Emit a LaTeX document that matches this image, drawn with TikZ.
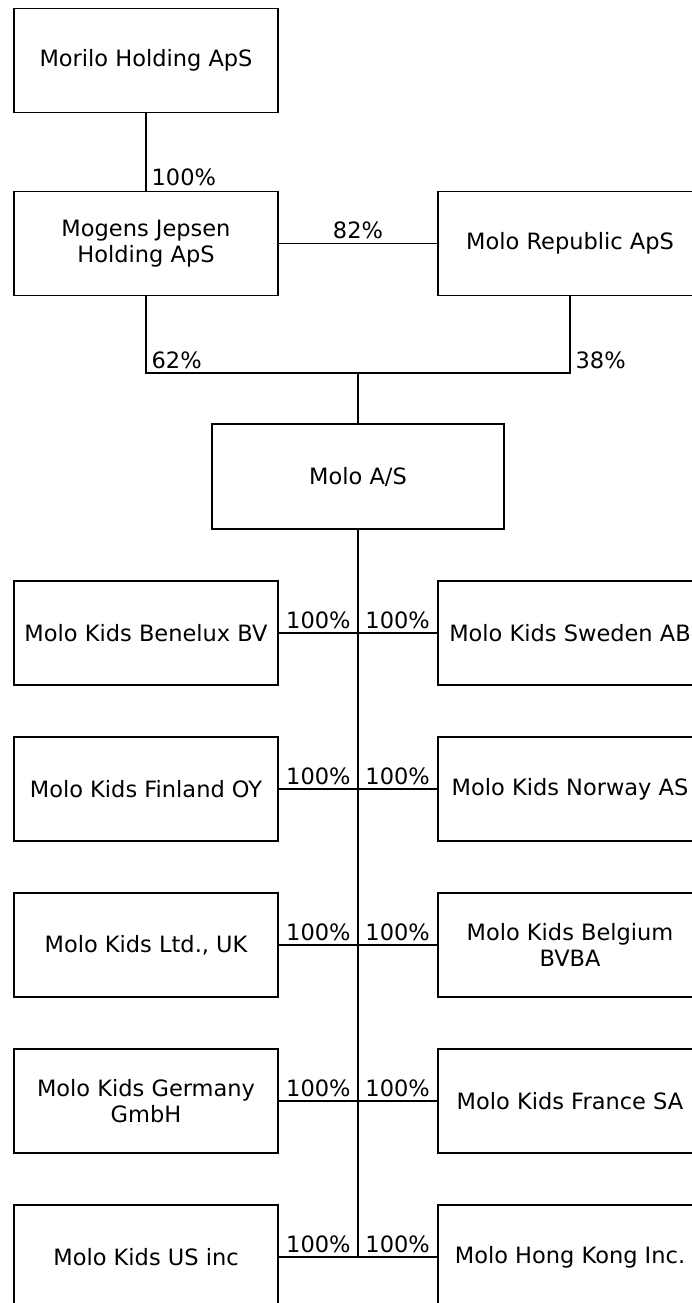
\documentclass[tikz,border=0pt]{standalone}
\usepackage{fontspec}
\setmainfont{DejaVu Sans}

\tikzset{
  company/.style={draw, line width=1.5pt, minimum width=264pt, minimum height=104pt,
    inner sep=0pt, align=center, font=\fontsize{22.5}{26}\selectfont},
  pct/.style={inner xsep=5pt, inner ysep=4pt, font=\fontsize{22.5}{26}\selectfont},
}

\begin{document}
\begin{tikzpicture}[x=1pt,y=-1pt,line width=1.3pt]

  \clip (0,0) rectangle (692,1303);
  \fill[white] (0,0) rectangle (692,1303);

  % owners
  \node (morilo) at (146,60.5) [company] {Morilo Holding ApS};
  \node (mogens) at (146,243.5) [company] {Mogens Jepsen\\Holding ApS};
  \node (republic) at (570,243.5) [company] {Molo Republic ApS};
  \node (molo) at (358,476.5) [company,minimum width=292pt,minimum height=105pt] {Molo A/S};

  % subsidiaries
  \node (benelux) at (146,633) [company] {Molo Kids Benelux BV};
  \node (sweden) at (570,633) [company] {Molo Kids Sweden AB};
  \node (finland) at (146,789) [company] {Molo Kids Finland OY};
  \node (norway) at (570,789) [company] {Molo Kids Norway AS};
  \node (uk) at (146,945) [company] {Molo Kids Ltd., UK};
  \node (belgium) at (570,945) [company] {Molo Kids Belgium\\BVBA};
  \node (germany) at (146,1101) [company] {Molo Kids Germany\\GmbH};
  \node (france) at (570,1101) [company] {Molo Kids France SA};
  \node (us) at (146,1257) [company] {Molo Kids US inc};
  \node (hongkong) at (570,1257) [company] {Molo Hong Kong Inc.};

  \coordinate (join) at (358,373);
  \coordinate (r1) at (358,633);
  \coordinate (r2) at (358,789);
  \coordinate (r3) at (358,945);
  \coordinate (r4) at (358,1101);
  \coordinate (r5) at (358,1257);

  \draw (morilo) -- node[pos=1,pct,anchor=south west] {100\%} (mogens);
  \draw (mogens) -- node[pct,above] {82\%} (republic);
  \draw (mogens.south) |- node[pos=0.5,pct,anchor=south west] {62\%} (join);
  \draw (republic.south) |- node[pos=0.5,pct,anchor=south west] {38\%} (join);
  \draw (join) -- (molo);
  \draw (molo) -- (r5);

  \draw (benelux) -- node[pct,above] {100\%} (r1);
  \draw (r1) -- node[pct,above] {100\%} (sweden);
  \draw (finland) -- node[pct,above] {100\%} (r2);
  \draw (r2) -- node[pct,above] {100\%} (norway);
  \draw (uk) -- node[pct,above] {100\%} (r3);
  \draw (r3) -- node[pct,above] {100\%} (belgium);
  \draw (germany) -- node[pct,above] {100\%} (r4);
  \draw (r4) -- node[pct,above] {100\%} (france);
  \draw (us) -- node[pct,above] {100\%} (r5);
  \draw (r5) -- node[pct,above] {100\%} (hongkong);

\end{tikzpicture}
\end{document}
